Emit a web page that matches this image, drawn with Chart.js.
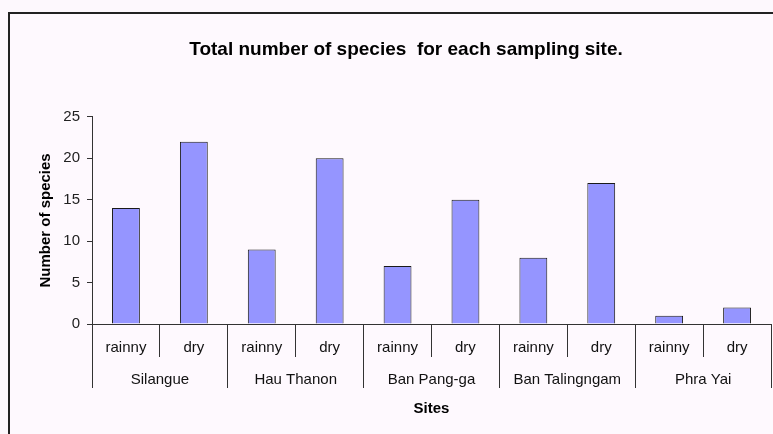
<!DOCTYPE html>
<html>
<head>
<meta charset="utf-8">
<script src="https://cdn.jsdelivr.net/npm/chart.js@4/dist/chart.umd.min.js"></script>
<style>
  html, body { margin: 0; padding: 0; background: #fdf8fd; }
  #wrap { position: relative; width: 773px; height: 434px; overflow: hidden; background: #fdf8fd; }
  #frame { position: absolute; left: 8px; top: 12px; width: 800px; height: 500px;
           border-left: 2px solid #222; border-top: 2px solid #222; background: #fef9fe; }
  #c { position: absolute; left: 0; top: 0; }
</style>
</head>
<body>
<div id="wrap">
  <div id="frame"></div>
  <canvas id="c" width="773" height="434"></canvas>
</div>
<script>
const chartTitle = "Total number of species  for each sampling site.";
const yTitle = "Number of species";
const xTitle = "Sites";
const seasons = ["rainny", "dry", "rainny", "dry", "rainny", "dry", "rainny", "dry", "rainny", "dry"];
const sites = ["Silangue", "Hau Thanon", "Ban Pang-ga", "Ban Talingngam", "Phra Yai"];
const speciesCounts = [14, 22, 9, 20, 7, 15, 8, 17, 1, 2];
const yTicks = [0, 5, 10, 15, 20, 25];

const FONT = "'Liberation Sans', Arial, sans-serif";
const lineCol = "#333333";

new Chart(document.getElementById('c'), {
  type: 'bar',
  data: {
    labels: seasons,
    datasets: [{
      data: speciesCounts,
      backgroundColor: '#9595ff',
      borderColor: '#1a1a1a',
      borderWidth: 1,
      barPercentage: 0.41,
      categoryPercentage: 1.0,
      xAxisID: 'x',
      yAxisID: 'y'
    }]
  },
  options: {
    responsive: false,
    animation: false,
    devicePixelRatio: 1,
    layout: { padding: { left: 41, right: 2, top: 0, bottom: 0 } },
    plugins: {
      legend: { display: false },
      tooltip: { enabled: false },
      title: {
        display: true,
        text: chartTitle,
        color: '#000',
        font: { family: FONT, size: 19, weight: 'bold', lineHeight: 1.2 },
        padding: { top: 38, bottom: 56 }
      }
    },
    scales: {
      x: {
        type: 'category',
        position: 'bottom',
        offset: true,
        grid: { display: true, drawOnChartArea: false, drawTicks: true, tickLength: 33, offset: true, color: lineCol, lineWidth: 1 },
        border: { display: true, color: lineCol, width: 1 },
        ticks: { color: '#111', font: { family: FONT, size: 15 }, padding: -18, maxRotation: 0, autoSkip: false },
        afterFit: s => { s.height = 33; }
      },
      x2: {
        type: 'category',
        position: 'bottom',
        labels: sites,
        offset: true,
        grid: { display: true, drawOnChartArea: false, drawTicks: true, tickLength: 31, offset: true, color: lineCol, lineWidth: 1 },
        border: { display: false },
        ticks: { color: '#111', font: { family: FONT, size: 15 }, padding: -17, maxRotation: 0, autoSkip: false },
        title: { display: true, text: xTitle, color: '#000', font: { family: FONT, size: 15, weight: 'bold' }, padding: { top: 0, bottom: 16 } },
        afterFit: s => { s.height = 77; }
      },
      y: {
        type: 'linear',
        position: 'left',
        min: 0,
        max: 25,
        afterBuildTicks: s => { s.ticks = yTicks.map(v => ({ value: v })); },
        grid: { display: true, drawOnChartArea: false, drawTicks: true, tickLength: 5, color: lineCol },
        border: { display: true, color: lineCol, width: 1 },
        ticks: { color: '#222', font: { family: FONT, size: 15 }, padding: 7 },
        title: { display: true, text: yTitle, color: '#000', font: { family: FONT, size: 15, weight: 'bold' }, padding: { top: -4, bottom: 0 } },
        afterFit: s => { s.width = 51; }
      }
    }
  }
});
</script>
</body>
</html>
